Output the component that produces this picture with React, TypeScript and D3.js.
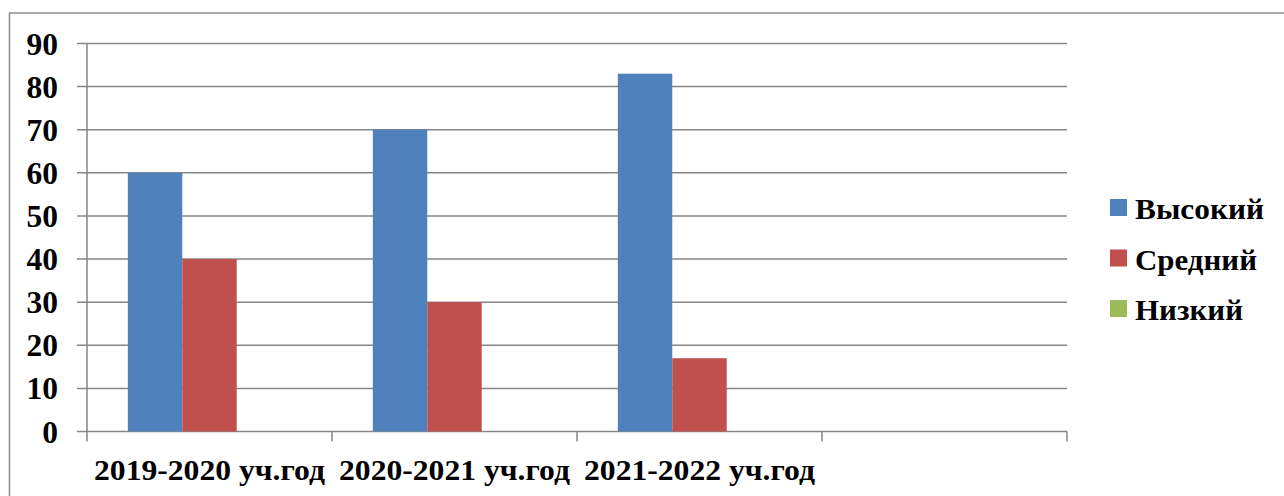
import React from "react";
import * as d3 from "d3";

const categories = ["2019-2020 уч.год", "2020-2021 уч.год", "2021-2022 уч.год", ""];
const seriesNames = ["Высокий", "Средний", "Низкий"];
const seriesColors = ["#4F81BD", "#C0504D", "#9BBB59"];
const valuesHigh = [60, 70, 83, null];
const valuesMid = [40, 30, 17, null];
const valuesLow = [0, 0, 0, null];
const yTicks = [0, 10, 20, 30, 40, 50, 60, 70, 80, 90];
const legendWidths = [129, 122, 108];

const W = 1284;
const H = 496;
const plotLeft = 87;
const plotRight = 1067;
const plotTop = 43.5;
const plotBottom = 431.5;
const FONT = "'Liberation Serif', 'Times New Roman', serif";

export default function App() {
  const series = [valuesHigh, valuesMid, valuesLow];
  const x0 = d3.scaleBand<string>().domain(categories.map((c, i) => String(i))).range([plotLeft, plotRight]).padding(0);
  const x1 = d3.scaleBand<string>().domain(seriesNames).range([0, x0.bandwidth()]).paddingInner(0).paddingOuter(0.75);
  const y = d3.scaleLinear().domain([0, 90]).range([plotBottom, plotTop]);
  const grid = "#868686";
  const slotEdges = categories.map((_, i) => x0(String(i))!).concat([plotRight]);

  return (
    <svg width={W} height={H} style={{ position: "absolute", left: 0, top: 0, background: "#fff" }}>
      <rect x={9.5} y={13} width={W} height={H} fill="#fff" stroke="#8c8c8c" strokeWidth={1.5} />
      {yTicks.map((t) => (
        <g key={t}>
          <line x1={plotLeft - 10} x2={plotRight} y1={y(t)} y2={y(t)} stroke={grid} strokeWidth={1.5} />
          <text
            x={58}
            y={y(t) + 11}
            textAnchor="end"
            fontFamily={FONT}
            fontWeight="bold"
            fontSize={31.5}
            fill="#000"
          >
            {t}
          </text>
        </g>
      ))}
      {series.map((vals, si) =>
        vals.map((v, ci) =>
          v === null || v === 0 ? null : (
            <rect
              key={`${si}-${ci}`}
              x={x0(String(ci))! + x1(seriesNames[si])!}
              y={y(v)}
              width={x1.bandwidth()}
              height={plotBottom - y(v)}
              fill={seriesColors[si]}
            />
          )
        )
      )}
      <line x1={plotLeft} x2={plotLeft} y1={plotTop} y2={plotBottom + 10} stroke={grid} strokeWidth={1.5} />
      {slotEdges.slice(1).map((xe, i) => (
        <line key={i} x1={xe} x2={xe} y1={plotBottom} y2={plotBottom + 10} stroke={grid} strokeWidth={1.5} />
      ))}
      {categories.map((c, i) =>
        c === "" ? null : (
          <text
            key={i}
            x={x0(String(i))! + x0.bandwidth() / 2 - 115.5}
            y={480}
            textLength={231}
            lengthAdjust="spacingAndGlyphs"
            fontFamily={FONT}
            fontWeight="bold"
            fontSize={29.5}
            fill="#000"
          >
            {c}
          </text>
        )
      )}
      {seriesNames.map((n, i) => (
        <g key={n}>
          <rect x={1110} y={199 + i * 50.5} width={17} height={17} fill={seriesColors[i]} />
          <text
            x={1135}
            y={219 + i * 50.5}
            textLength={legendWidths[i]}
            lengthAdjust="spacingAndGlyphs"
            fontFamily={FONT}
            fontWeight="bold"
            fontSize={29}
            fill="#000"
          >
            {n}
          </text>
        </g>
      ))}
    </svg>
  );
}
